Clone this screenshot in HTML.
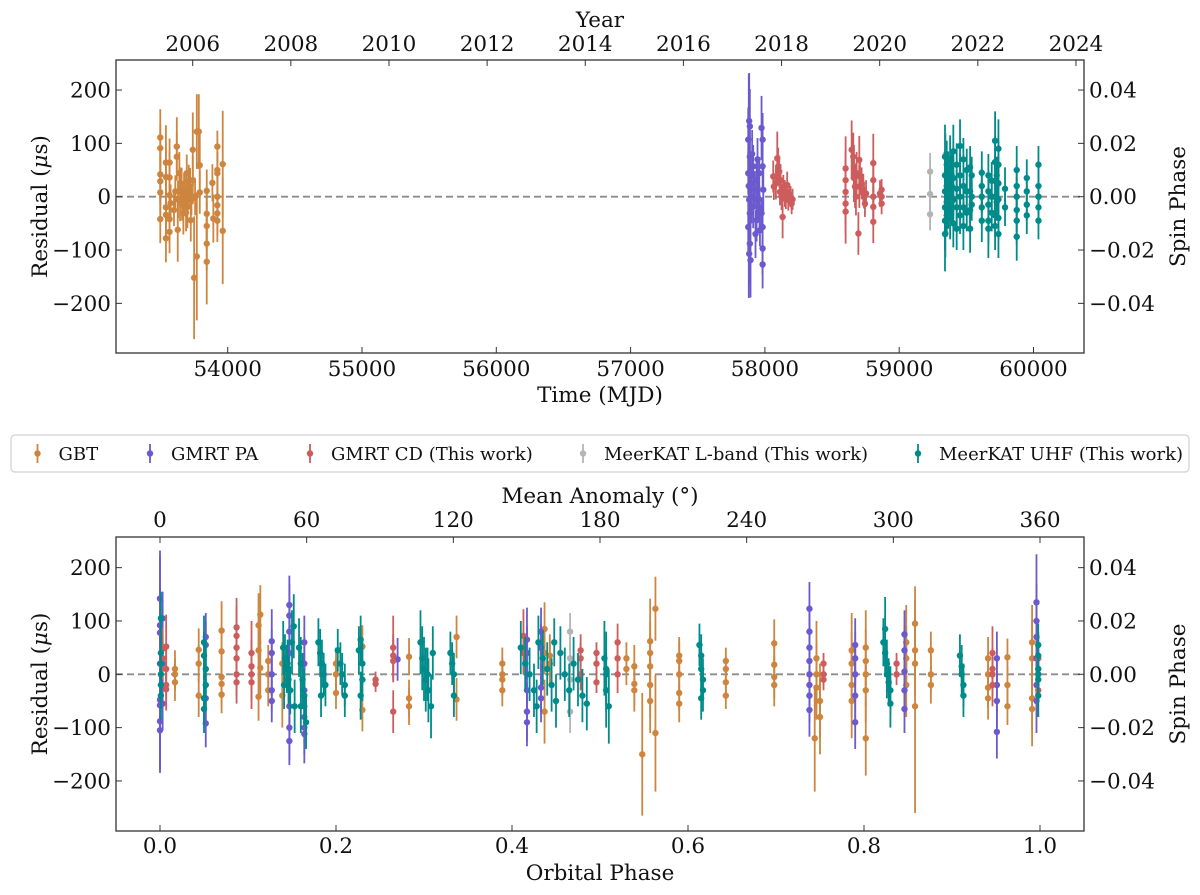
<!DOCTYPE html>
<html><head><meta charset="utf-8"><style>
html,body{margin:0;padding:0;background:#fff;}
svg{display:block;font-family:"DejaVu Serif","Liberation Serif",serif;}
</style></head><body>
<svg id="chart" width="1200" height="895" viewBox="0 0 1200 895" xmlns="http://www.w3.org/2000/svg">
<rect x="0" y="0" width="1200" height="895" fill="#fff"/>
<g id="top"></g>
<g id="bot"></g>
<g id="legend"></g>
</svg>
<script>
// ---------------- DATA ----------------
const seriesNames = ["GBT","GMRT PA","GMRT CD (This work)","MeerKAT L-band (This work)","MeerKAT UHF (This work)"];
const seriesColors = ["#cd853f","#6a5acd","#cd5c5c","#b4b4b4","#008b8b"];
const residTicks = [200,100,0,-100,-200];
const residTickLabels = ["200","100","0","\u2212100","\u2212200"];
const spinTicks = [0.04,0.02,0,-0.02,-0.04];
const spinTickLabels = ["0.04","0.02","0.00","\u22120.02","\u22120.04"];
const spinPeriodUs = 5000;
const mjdTicks = [54000,55000,56000,57000,58000,59000,60000];
const yearTicks = [2006,2008,2010,2012,2014,2016,2018,2020,2022,2024];
const phaseTicks = [0,0.2,0.4,0.6,0.8,1.0];
const phaseTickLabels = ["0.0","0.2","0.4","0.6","0.8","1.0"];
const anomalyTicks = [0,60,120,180,240,300,360];

// top panel: [MJD, residual us, error us]
const gbtTop = [[53498,111,53],[53498,91,45],[53498,42,50],[53498,29,45],[53498,8,40],[53498,-42,45],
[53540,64,70],[53540,37,55],[53540,-20,45],[53540,-34,50],[53540,-78,45],
[53567,64,45],[53567,36,50],[53567,3,40],[53567,-42,45],[53567,-66,40],[53575,-12,35],
[53621,94,55],[53621,75,45],[53628,-62,60],[53640,44,40],[53645,-6,40],[53657,19,35],[53670,-31,40],[53682,6,35],[53695,44,35],[53700,-19,40],[53720,19,35],[53725,-44,40],
[53610,10,30],[53630,-5,35],[53650,25,30],[53660,-15,30],[53675,15,30],[53690,-10,30],[53705,5,30],[53710,30,30],[53730,-5,30],[53600,-25,30],[53690,-30,35],
[53740,88,70],[53740,31,45],[53750,-152,115],[53757,0,35],[53770,122,70],[53770,-112,120],[53785,122,70],[53792,59,60],[53792,8,40],
[53844,11,40],[53844,-32,50],[53844,-55,45],[53844,-88,50],[53844,-122,80],[53886,26,35],[53893,-41,45],
[53923,94,30],[53923,50,35],[53923,44,40],[53923,0,40],[53923,-16,35],[53923,-31,40],[53923,-45,40],[53963,61,100],[53963,-64,100]];
const paTop = [[57880,20,210],[57883,142,90],[57888,132,70],[57876,107,60],[57888,75,50],[57876,44,40],[57893,25,45],[57883,-6,40],[57888,-31,50],[57876,-57,45],[57888,-88,50],[57883,-107,60],[57893,-119,70],
[57913,57,40],[57913,-19,40],[57925,13,35],[57938,31,40],[57938,-44,40],[57950,-6,35],[57958,44,30],[57963,-63,30],[57975,129,60],[57983,107,50],[57983,57,40],[57988,13,40],[57983,-57,40],[57983,-97,50],[57983,-127,45],[57975,-31,30],[57900,0,50],[57905,80,45],[57945,70,40],[57960,-20,40],[57930,-70,45]];
const cdTop = [[58062,38,30],[58067,19,25],[58082,25,30],[58092,72,50],[58099,57,35],[58107,47,30],[58112,9,25],[58117,31,30],[58124,0,25],[58132,-38,40],[58137,16,25],[58149,6,25],[58156,-3,20],[58166,22,25],[58174,-6,20],[58181,5,20],[58191,0,20],[58199,-13,20],[58206,-5,20],
[58601,53,60],[58601,31,55],[58601,9,60],[58601,-13,55],[58601,-28,60],[58646,88,55],[58658,75,45],[58663,57,40],[58663,35,45],[58671,19,40],[58678,0,35],[58683,44,40],[58696,-69,40],[58703,69,45],[58703,19,40],[58708,38,35],[58720,25,30],[58733,13,30],[58738,3,25],[58745,-13,25],[58753,6,25],
[58807,63,55],[58807,31,40],[58807,0,40],[58807,-19,35],[58807,-47,40],[58857,6,25],[58869,0,20],[58869,-13,20],[58869,13,20]];
const lbTop = [[59230,47,35],[59230,5,35],[59230,-33,30],[59346,79,40],[59346,-69,45]];
const uhfTop = [[59341,75,60],[59341,40,45],[59341,10,40],[59341,-20,45],[59341,-45,55],[59341,-70,70],
[59354,60,45],[59354,20,40],[59354,-10,40],[59354,-35,40],[59366,45,40],[59366,5,35],[59366,-25,35],
[59379,70,45],[59379,30,40],[59379,0,35],[59379,-40,40],[59391,20,35],[59391,-10,35],[59391,40,40],
[59403,85,50],[59403,35,40],[59403,-5,35],[59403,-50,45],[59428,60,40],[59428,15,35],[59428,-20,35],[59428,-60,40],
[59453,95,50],[59453,40,40],[59453,0,35],[59453,-35,35],[59478,70,40],[59478,20,35],[59478,-20,40],[59478,-55,45],
[59503,50,40],[59503,10,35],[59503,-30,35],[59528,55,40],[59528,10,35],[59528,-25,40],[59528,-60,45],[59540,40,35],[59540,0,30],[59540,-15,30],
[59615,45,40],[59615,20,35],[59615,0,30],[59615,-20,35],[59615,-45,40],[59664,40,40],[59664,10,35],[59664,-15,40],[59664,-45,45],[59664,-60,55],
[59689,30,35],[59689,0,35],[59689,-30,35],[59714,105,55],[59714,65,45],[59714,30,40],[59714,0,35],[59714,-35,40],[59714,-55,45],[59726,40,35],[59726,-10,35],
[59739,90,55],[59739,60,45],[59739,25,40],[59739,-5,35],[59739,-40,40],[59739,-70,45],[59788,15,40],[59788,-20,35],
[59875,50,45],[59875,20,40],[59875,0,35],[59875,-25,40],[59875,-45,45],[59875,-75,45],[59950,35,35],[59950,10,30],[59950,-15,30],[59950,-35,35],
[60037,60,35],[60037,20,35],[60037,0,30],[60037,-20,30],[60037,-45,35]];

// bottom panel: [orbital phase, residual us, error us]
const gbtBot = [[0.017,10,35],[0.017,0,30],[0.017,-15,35],[0.044,46,40],[0.044,20,35],[0.044,-40,40],
[0.070,82,55],[0.070,43,45],[0.070,-5,40],[0.070,-18,40],[0.070,-38,35],[0.114,112,55],[0.112,92,60],[0.112,45,50],[0.114,12,50],[0.112,-42,45],
[0.123,25,30],[0.123,0,30],[0.123,-30,30],[0.139,-40,60],[0.139,20,40],[0.2,20,30],[0.2,0,30],[0.2,-35,30],[0.23,52,40],[0.23,-67,40],
[0.283,33,35],[0.283,-45,35],[0.283,-60,35],[0.337,70,40],[0.337,-47,40],[0.389,20,30],[0.389,0,30],[0.389,-10,30],[0.389,-30,30],
[0.437,85,50],[0.437,40,40],[0.437,-70,60],[0.443,35,40],[0.443,20,40],
[0.53,30,30],[0.53,10,30],[0.539,15,40],[0.539,-18,40],[0.539,-30,40],[0.557,62,80],[0.557,40,60],[0.557,15,60],[0.557,-20,60],[0.557,-50,60],
[0.548,-150,115],[0.563,123,60],[0.563,-110,110],[0.59,35,35],[0.59,25,35],[0.59,0,35],[0.59,-35,35],[0.59,-55,35],
[0.643,25,25],[0.643,10,25],[0.643,-15,25],[0.643,-40,25],[0.698,58,45],[0.698,18,45],[0.698,-5,40],[0.698,-20,40],
[0.746,30,70],[0.746,0,60],[0.746,-25,60],[0.75,-50,70],[0.75,-80,70],[0.744,-120,100],[0.786,45,70],[0.786,20,60],[0.786,-20,60],[0.786,-50,70],
[0.802,50,70],[0.802,25,60],[0.802,0,60],[0.802,-30,60],[0.802,-120,70],[0.848,60,70],[0.848,30,60],[0.848,-20,60],
[0.858,95,70],[0.858,45,60],[0.858,20,60],[0.858,-60,200],[0.876,45,35],[0.876,0,35],[0.876,-20,35],
[0.941,30,40],[0.941,0,40],[0.941,-25,40],[0.941,-45,40],[0.963,32,35],[0.963,-20,35],[0.963,-60,35],[0.991,60,70],[0.991,30,70],[0.991,-65,70],[0.991,-45,60]];
const paBot = [[0.0,20,200],[0.0,142,90],[0.0,92,70],[0.0,78,60],[0.0,-48,60],[0.0,-58,60],[0.0,-88,80],[0.0,-105,80],[0.003,105,50],[0.003,20,50],[0.003,-55,50],
[0.052,70,45],[0.052,55,45],[0.052,-45,45],[0.052,-92,45],[0.127,62,60],[0.127,40,45],[0.127,0,40],[0.127,-30,40],[0.127,-50,40],
[0.147,130,55],[0.147,110,60],[0.147,80,50],[0.147,40,50],[0.147,-60,50],[0.147,-100,60],[0.147,-125,45],
[0.164,60,50],[0.164,20,50],[0.164,-30,50],[0.164,-60,50],[0.164,-80,50],[0.164,-100,50],[0.164,-112,55],[0.27,28,40],
[0.417,65,60],[0.417,40,50],[0.417,-30,50],[0.417,-70,55],[0.417,-90,45],[0.433,80,45],[0.433,50,45],[0.433,-25,45],[0.433,-45,45],
[0.738,123,50],[0.738,80,50],[0.738,50,50],[0.738,25,50],[0.738,0,50],[0.738,-20,50],[0.738,-40,50],[0.738,-67,50],
[0.79,55,50],[0.79,30,50],[0.79,0,50],[0.79,-40,50],[0.79,-90,50],[0.846,75,45],[0.846,45,45],[0.846,5,45],[0.846,-30,45],[0.846,-65,45],
[0.951,30,50],[0.951,-20,50],[0.951,-50,50],[0.951,-108,50],[0.996,135,90],[0.996,100,70],[0.996,70,60],[0.996,30,60],[0.996,-20,60],[0.996,-50,60]];
const cdBot = [[0.003,48,40],[0.003,30,40],[0.007,52,60],[0.007,10,40],[0.007,-20,40],[0.007,-28,40],
[0.087,88,55],[0.087,72,55],[0.087,50,45],[0.087,30,45],[0.087,0,40],[0.087,-15,40],[0.104,40,60],[0.104,15,50],[0.104,0,50],[0.104,-15,50],
[0.245,-10,15],[0.245,-18,15],[0.265,50,60],[0.265,35,40],[0.265,25,40],[0.265,-70,40],[0.413,72,50],[0.413,40,40],
[0.478,45,30],[0.478,30,30],[0.478,0,30],[0.496,40,20],[0.496,20,20],[0.496,-15,20],[0.52,60,35],[0.52,30,35],[0.52,0,35],
[0.754,20,20],[0.754,0,20],[0.754,-10,20],[0.837,20,20],[0.837,0,20],[0.946,40,50],[0.946,10,40],[0.946,0,40],[0.946,-20,40],
[0.998,30,50],[0.998,10,50],[0.998,-30,50]];
const lbBot = [[0.466,80,35],[0.466,30,30],[0.466,-10,30],[0.466,-70,40]];
const uhfBot = [[0.001,105,50],[0.001,40,50],[0.001,20,45],[0.001,0,45],[0.001,-20,45],[0.001,-40,45],
[0.05,60,50],[0.05,35,45],[0.052,10,45],[0.052,-20,45],[0.05,-45,45],[0.05,-65,45],
[0.14,50,50],[0.142,30,45],[0.144,10,45],[0.146,-10,45],[0.148,-30,45],[0.15,60,60],[0.152,90,60],[0.153,-60,50],[0.141,-20,45],[0.145,20,45],
[0.158,50,55],[0.16,20,50],[0.162,-10,50],[0.164,-40,50],[0.166,-90,50],[0.16,-60,50],
[0.18,60,45],[0.182,40,45],[0.184,20,45],[0.186,0,40],[0.188,-20,40],[0.183,-40,40],
[0.202,45,40],[0.205,20,40],[0.207,0,40],[0.21,-20,40],[0.21,-40,40],[0.226,45,45],[0.228,65,45],[0.23,20,40],[0.23,-10,40],[0.228,-40,45],
[0.296,60,60],[0.298,30,60],[0.3,10,60],[0.302,-10,60],[0.305,-30,60],[0.308,-60,60],[0.31,40,50],[0.304,0,50],
[0.33,40,40],[0.332,20,40],[0.334,0,40],[0.334,-40,40],
[0.41,50,50],[0.415,20,50],[0.42,0,50],[0.425,-30,50],[0.43,60,50],[0.435,30,50],[0.44,10,50],[0.445,-20,50],[0.45,-50,50],[0.455,40,50],[0.46,0,50],[0.465,-30,50],[0.47,20,50],[0.475,-10,50],[0.48,-40,50],[0.485,-55,50],[0.428,-60,50],[0.448,60,45],
[0.505,30,70],[0.507,10,70],[0.507,0,70],[0.507,-30,70],[0.51,-60,70],
[0.613,55,40],[0.615,35,40],[0.615,10,40],[0.617,-10,40],[0.617,-30,40],[0.615,-45,40],
[0.822,60,45],[0.824,40,45],[0.826,20,45],[0.826,0,45],[0.828,-15,45],[0.83,-30,45],[0.83,-55,45],[0.824,85,60],
[0.909,35,40],[0.911,15,40],[0.911,0,40],[0.913,-20,40],[0.913,-40,40],
[0.998,55,40],[0.998,35,40],[0.998,10,40],[0.998,0,40],[0.998,-10,40],[0.998,-40,40]];

// ---------------- RENDER ----------------
const NS="http://www.w3.org/2000/svg";
const FS=21.5;
function mk(parent,tag,attrs,text){const e=document.createElementNS(NS,tag);for(const k in attrs)e.setAttribute(k,attrs[k]);if(text!==undefined)e.textContent=text;parent.appendChild(e);return e;}
const L=116,R=1084,YS=0.5333;
const panels=[{g:document.getElementById('top'),T:60,B:353,y0:196.7,
  x:v=>227.7+(v-54000)*0.13430, series:[gbtTop,paTop,cdTop,lbTop,uhfTop]},
 {g:document.getElementById('bot'),T:537,B:831,y0:674.3,
  x:v=>160+v*880, series:[gbtBot,paBot,cdBot,lbBot,uhfBot]}];
const keys=["gbt","gmrt-pa","gmrt-cd","meerkat-lband","meerkat-uhf"];
panels.forEach((p,pi)=>{
  const y=v=>p.y0-v*YS;
  const g=p.g;
  const clip=mk(g,'clipPath',{id:'clip'+pi});mk(clip,'rect',{x:L,y:p.T,width:R-L,height:p.B-p.T});
  const zl=mk(g,'line',{x1:L,x2:R,y1:y(0),y2:y(0),stroke:'#8c8c8c','stroke-width':1.8,'stroke-dasharray':'7,4'});
  
  
  p.series.forEach((data,si)=>{
    const sg=mk(g,'g',{'clip-path':'url(#clip'+pi+')',fill:seriesColors[si],stroke:seriesColors[si]});
    
    
    data.forEach(d=>{
      const cx=p.x(d[0]);
      const bar=mk(sg,'line',{x1:cx,x2:cx,y1:y(d[1]+d[2]),y2:y(d[1]-d[2]),'stroke-width':1.8});
      
      
      const c=mk(sg,'circle',{cx:cx,cy:y(d[1]),r:3.2,stroke:'none'});
      
      
    });
  });
  const fr=mk(g,'rect',{x:L,y:p.T,width:R-L,height:p.B-p.T,fill:'none',stroke:'#333','stroke-width':1.3});
  
  
  residTicks.forEach((v,i)=>{
    mk(g,'line',{x1:L,x2:L+6,y1:y(v),y2:y(v),stroke:'#333','stroke-width':1});
    const t=mk(g,'text',{x:111,y:y(v)+7.5,'text-anchor':'end','font-size':FS,fill:'#111'},residTickLabels[i]);
    
    
  });
  spinTicks.forEach((v,i)=>{
    const yy=y(v*spinPeriodUs);
    mk(g,'line',{x1:R-6,x2:R,y1:yy,y2:yy,stroke:'#333','stroke-width':1});
    const t=mk(g,'text',{x:1089,y:yy+7.5,'font-size':FS,fill:'#111'},spinTickLabels[i]);
    
    
  });
  const yl=mk(g,'text',{x:0,y:0,transform:`translate(47,${(p.T+p.B)/2}) rotate(-90)`,'text-anchor':'middle','font-size':FS,fill:'#111'});
  yl.innerHTML='Residual (<tspan font-style="italic">\u03bc</tspan>s)';
  
  
  const yr=mk(g,'text',{x:0,y:0,transform:`translate(1185,${(p.T+p.B)/2}) rotate(-90)`,'text-anchor':'middle','font-size':FS,fill:'#111'},'Spin Phase');
  
  
  if(pi===0){
    mjdTicks.forEach(v=>{const xx=p.x(v);mk(g,'line',{x1:xx,x2:xx,y1:p.B-6,y2:p.B,stroke:'#333'});
      const t=mk(g,'text',{x:xx,y:376,'text-anchor':'middle','font-size':FS,fill:'#111'},String(v));
      
      });
    yearTicks.forEach(v=>{const xx=192.7+(v-2006)*49.07;mk(g,'line',{x1:xx,x2:xx,y1:p.T,y2:p.T+6,stroke:'#333'});
      const t=mk(g,'text',{x:xx,y:51,'text-anchor':'middle','font-size':FS,fill:'#111'},String(v));
      
      });
    const xt=mk(g,'text',{x:(L+R)/2,y:402,'text-anchor':'middle','font-size':FS,fill:'#111'},'Time (MJD)');
    
    
    const tt=mk(g,'text',{x:600,y:27,'text-anchor':'middle','font-size':FS,fill:'#111'},'Year');
    
    
  } else {
    phaseTicks.forEach((v,i)=>{const xx=p.x(v);mk(g,'line',{x1:xx,x2:xx,y1:p.B-6,y2:p.B,stroke:'#333'});
      const t=mk(g,'text',{x:xx,y:853,'text-anchor':'middle','font-size':FS,fill:'#111'},phaseTickLabels[i]);
      
      });
    anomalyTicks.forEach(v=>{const xx=160+v/360*880;mk(g,'line',{x1:xx,x2:xx,y1:p.T,y2:p.T+6,stroke:'#333'});
      const t=mk(g,'text',{x:xx,y:527,'text-anchor':'middle','font-size':FS,fill:'#111'},String(v));
      
      });
    const xt=mk(g,'text',{x:(L+R)/2,y:880,'text-anchor':'middle','font-size':FS,fill:'#111'},'Orbital Phase');
    
    
    const tt=mk(g,'text',{x:600,y:503,'text-anchor':'middle','font-size':FS,fill:'#111'},'Mean Anomaly (\u00b0)');
    
    
  }
});
const lg=document.getElementById('legend');
const box=mk(lg,'rect',{x:11,y:435,width:1178,height:37,rx:4,fill:'#fff',stroke:'#d0d0d0','stroke-width':1.2});


const legMarkX=[37.5,150,310,583,918];
seriesNames.forEach((n,i)=>{
  const eg=mk(lg,'g',{});
  
  
  const mx=legMarkX[i];
  mk(eg,'line',{x1:mx,x2:mx,y1:444,y2:463,stroke:seriesColors[i],'stroke-width':1.8});
  mk(eg,'circle',{cx:mx,cy:453.5,r:3.2,fill:seriesColors[i]});
  mk(eg,'text',{x:mx+21,y:460,'font-size':18,fill:'#111'},n);
});
</script>
</body></html>
